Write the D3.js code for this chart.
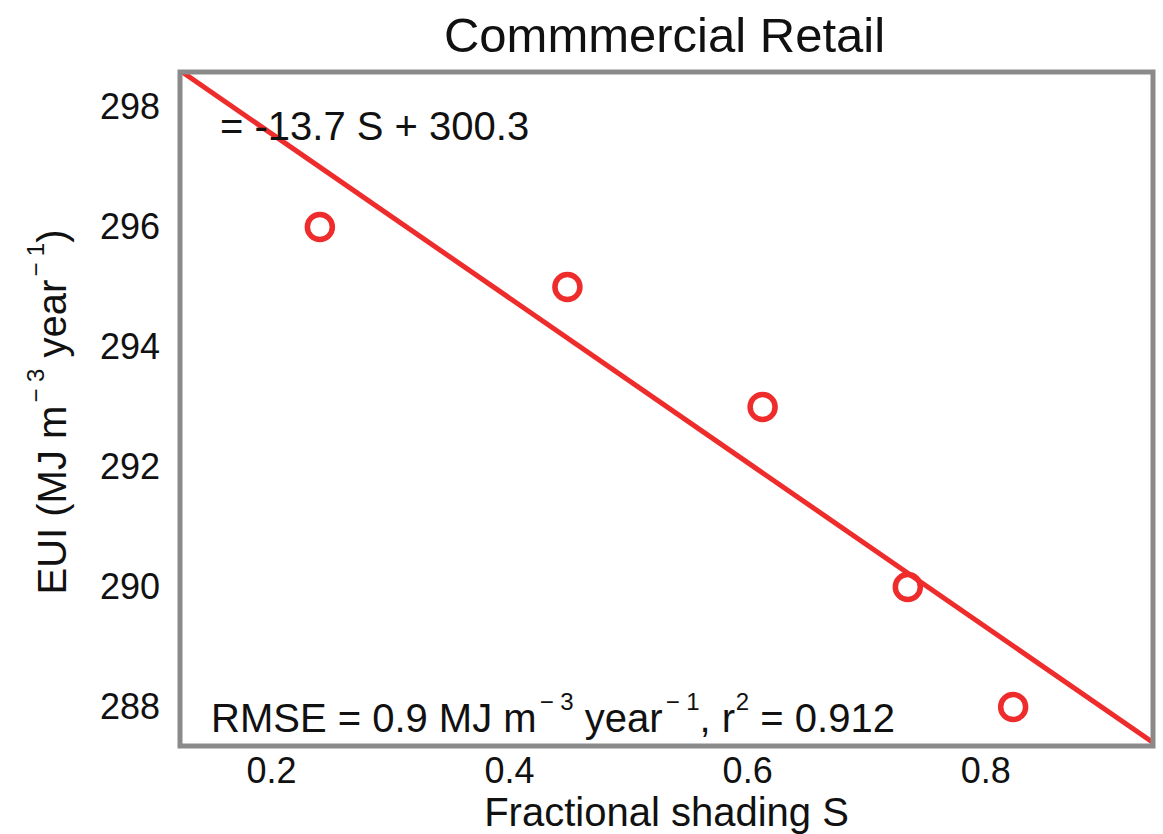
<!DOCTYPE html>
<html>
<head>
<meta charset="utf-8">
<script src="https://cdn.jsdelivr.net/npm/d3@7"></script>
<style>
  html, body { margin: 0; padding: 0; background: #fff; }
  svg { display: block; }
  text { font-family: "Liberation Sans", Arial, Helvetica, sans-serif; fill: #111; }
</style>
</head>
<body>
<svg id="chart" width="1163" height="834"></svg>
<script>
// ---- data ----
const shading = [0.241, 0.449, 0.613, 0.735, 0.8235];
const eui = [296, 295, 293, 290, 288];
const fitSlope = -13.7;
const fitIntercept = 300.3;
const xTicks = [0.2, 0.4, 0.6, 0.8];
const yTicks = [288, 290, 292, 294, 296, 298];
const xDomain = [0.1235, 0.941];
const yDomain = [287.35, 298.583];
const titleText = "Commmercial Retail";
const xLabelText = "Fractional shading S";

// ---- layout ----
const W = 1163, H = 834;
const L = 180, R = 1153, T = 72, B = 746;
const red = "#ee2c2c";

const svg = d3.select("#chart");
const x = d3.scaleLinear().domain(xDomain).range([L, R]);
const y = d3.scaleLinear().domain(yDomain).range([B, T]);

svg.append("defs").append("clipPath").attr("id", "clip")
  .append("rect").attr("x", L).attr("y", T).attr("width", R - L).attr("height", B - T);

// regression line
const lineX = [xDomain[0] - 0.05, xDomain[1] + 0.05];
svg.append("path")
  .attr("clip-path", "url(#clip)")
  .datum(lineX)
  .attr("d", d3.line().x(d => x(d)).y(d => y(fitIntercept + fitSlope * d)))
  .attr("fill", "none").attr("stroke", red).attr("stroke-width", 5);

// points
svg.append("g").selectAll("circle")
  .data(shading.map((s, i) => ({ s, v: eui[i] })))
  .join("circle")
  .attr("cx", d => x(d.s)).attr("cy", d => y(d.v)).attr("r", 12.5)
  .attr("fill", "none").attr("stroke", red).attr("stroke-width", 5.5);

// frame
svg.append("rect").attr("x", L).attr("y", T).attr("width", R - L).attr("height", B - T)
  .attr("fill", "none").attr("stroke", "#8a8a8a").attr("stroke-width", 5);

// axes
const xAxis = svg.append("g").attr("transform", `translate(0,${B})`)
  .call(d3.axisBottom(x).tickValues(xTicks).tickSize(0).tickPadding(11).tickFormat(d3.format(".1f")));
xAxis.select(".domain").remove();
xAxis.selectAll("text").attr("font-size", 36).attr("font-family", null).style("fill", "#111");

const yAxis = svg.append("g").attr("transform", `translate(${L},0)`)
  .call(d3.axisLeft(y).tickValues(yTicks).tickSize(0).tickPadding(20).tickFormat(d3.format("d")));
yAxis.select(".domain").remove();
yAxis.selectAll("text").attr("font-size", 36).attr("font-family", null).style("fill", "#111");

// title
svg.append("text").attr("x", (L + R) / 2 - 2).attr("y", 52).attr("text-anchor", "middle")
  .attr("font-size", 49).text(titleText);

// x label
svg.append("text").attr("x", (L + R) / 2).attr("y", 826).attr("text-anchor", "middle")
  .attr("font-size", 40).text(xLabelText);

// helper for superscript texts: sup = [minusPart, digitPart]
function supText(sel, parts, fs) {
  const ss = fs * 0.6, shift = fs * 0.55;
  let pending = 0;
  parts.forEach(p => {
    if (p.sup) {
      p.sup.forEach((s, k) => {
        const dx = p.sup.length === 1 ? fs * 0.02 : (k === 0 ? fs * 0.08 : fs * 0.16);
        sel.append("tspan").attr("font-size", ss)
          .attr("dx", dx)
          .attr("dy", k === 0 ? -shift + pending : 0).text(s);
      });
      pending = shift;
    } else {
      const t = sel.append("tspan").text(p.t);
      if (pending) t.attr("dy", pending);
      pending = 0;
    }
  });
}

// y label
const yl = svg.append("text").attr("transform", `translate(66,${(T + B) / 2 + 3}) rotate(-90)`)
  .attr("text-anchor", "middle").attr("font-size", 40);
supText(yl, [{ t: "EUI (MJ m" }, { sup: ["\u2212", "3"] }, { t: " year" }, { sup: ["\u2212", "1"] }, { t: ")" }], 40);

// equation
svg.append("text").attr("x", 220).attr("y", 140).attr("font-size", 40)
  .text("= -13.7 S + 300.3");

// RMSE
const rm = svg.append("text").attr("x", 211).attr("y", 732).attr("font-size", 40);
supText(rm, [{ t: "RMSE = 0.9 MJ m" }, { sup: ["\u2212", "3"] }, { t: " year" }, { sup: ["\u2212", "1"] },
  { t: ", r" }, { sup: ["2"] }, { t: " = 0.912" }], 40);
</script>
</body>
</html>
